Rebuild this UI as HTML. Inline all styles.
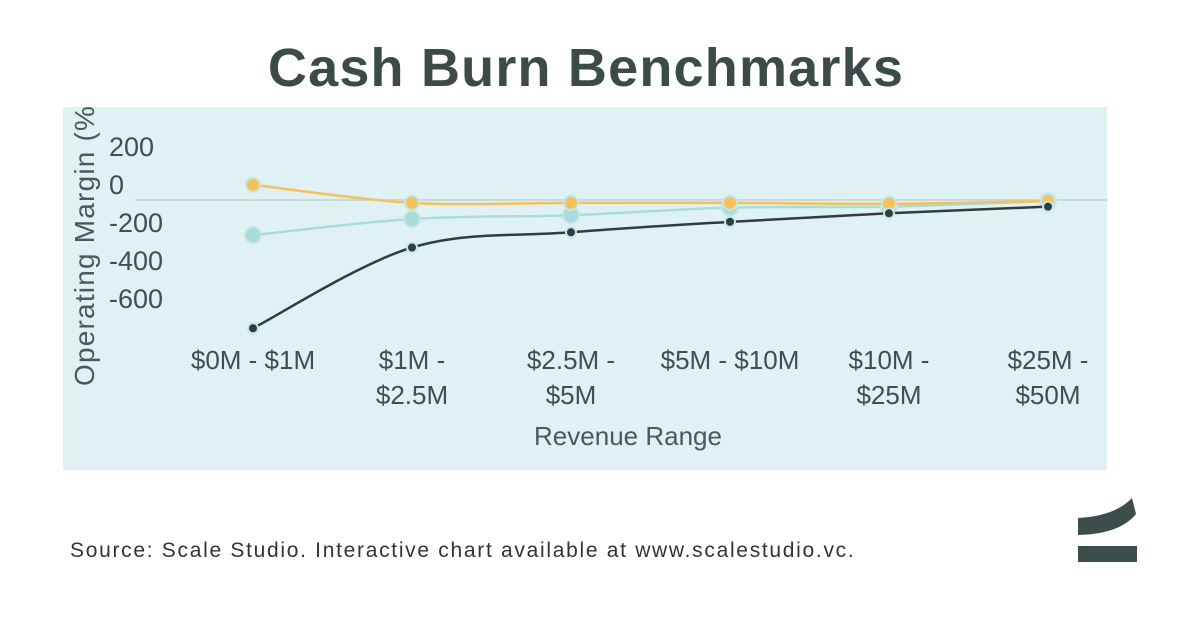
<!DOCTYPE html>
<html><head><meta charset="utf-8"><style>
body{margin:0;width:1200px;height:628px;background:#fff;overflow:hidden;font-family:"Liberation Sans",sans-serif}
</style></head><body>
<svg width="1200" height="628">
<text x="586" y="86" text-anchor="middle" font-size="54" letter-spacing="1.2" font-weight="bold" fill="#3a4b49">Cash Burn Benchmarks</text>
<rect x="63" y="107" width="1044" height="363" fill="#dff1f2"/>
<line x1="135" x2="1107" y1="200" y2="200" stroke="#c3d3d4" stroke-width="1.5"/>
<g id="ticks"></g>
<g id="series"></g>
<g id="xlabels"></g>
<text x="628" y="445" text-anchor="middle" font-size="26" fill="#4a5a5c">Revenue Range</text>
<svg x="63" y="107" width="50" height="363"><text transform="translate(31,279) rotate(-90)" font-size="28" letter-spacing="1.2" fill="#4a5a5c">Operating Margin (%)</text></svg>
<text x="70" y="557" font-size="21" letter-spacing="1.7" fill="#333">Source: Scale Studio. Interactive chart available at www.scalestudio.vc.</text>
<g><path d="M1078 535 L1078 518 Q1115 516 1132 498 L1136 514 Q1120 534 1078 535Z" fill="#3c4e4c"/><rect x="1078" y="546" width="59" height="16" fill="#3c4e4c"/></g>
</svg>
<script>
const categories=[["$0M - $1M"],["$1M -","$2.5M"],["$2.5M -","$5M"],["$5M - $10M"],["$10M -","$25M"],["$25M -","$50M"]];
const yTicks=[200,0,-200,-400,-600];
const seriesTop=[80,-15,-15,-15,-20,-5];
const seriesMid=[-185,-100,-80,-40,-35,-5];
const seriesLow=[-675,-250,-170,-115,-70,-35];
const NS="http://www.w3.org/2000/svg";
const x=i=>253+i*159, y=v=>200-v*0.19;
function mk(t,a,p){const e=document.createElementNS(NS,t);for(const k in a)e.setAttribute(k,a[k]);p.appendChild(e);return e;}
const tg=document.getElementById('ticks');
yTicks.forEach(v=>{const t=mk('text',{x:109,y:y(v)-6,'font-size':27,fill:'#3f4f52'},tg);t.textContent=v;

});
const xg=document.getElementById('xlabels');
categories.forEach((c,i)=>c.forEach((l,j)=>{const t=mk('text',{x:x(i),y:369+j*35,'text-anchor':'middle','font-size':26,fill:'#3f4f52'},xg);t.textContent=l;

}));
const sg=document.getElementById('series');
function path(vals){const p=vals.map((v,i)=>[x(i),y(v)]);let d=`M${p[0][0]},${p[0][1]}`;
for(let i=0;i<p.length-1;i++){const p0=p[i-1]||p[i],p1=p[i],p2=p[i+1],p3=p[i+2]||p2;
d+=` C${p1[0]+(p2[0]-p0[0])/6},${p1[1]+(p2[1]-p0[1])/6} ${p2[0]-(p3[0]-p1[0])/6},${p2[1]-(p3[1]-p1[1])/6} ${p2[0]},${p2[1]}`;}return d;}
[[seriesMid,'#a9dcdc',8,'series-mid'],[seriesTop,'#f5c15a',7,'series-top'],[seriesLow,'#2f3d3f',5,'series-low']].forEach(([vals,col,r,name])=>{
const g=mk('g',{},sg);


mk('path',{d:path(vals),fill:'none',stroke:col,'stroke-width':2.5},g);
vals.forEach((v,i)=>{const c=mk('circle',{cx:x(i),cy:y(v),r:r,fill:col,stroke:'#c5e6e6','stroke-width':2},g);

});});
</script>
</body></html>
